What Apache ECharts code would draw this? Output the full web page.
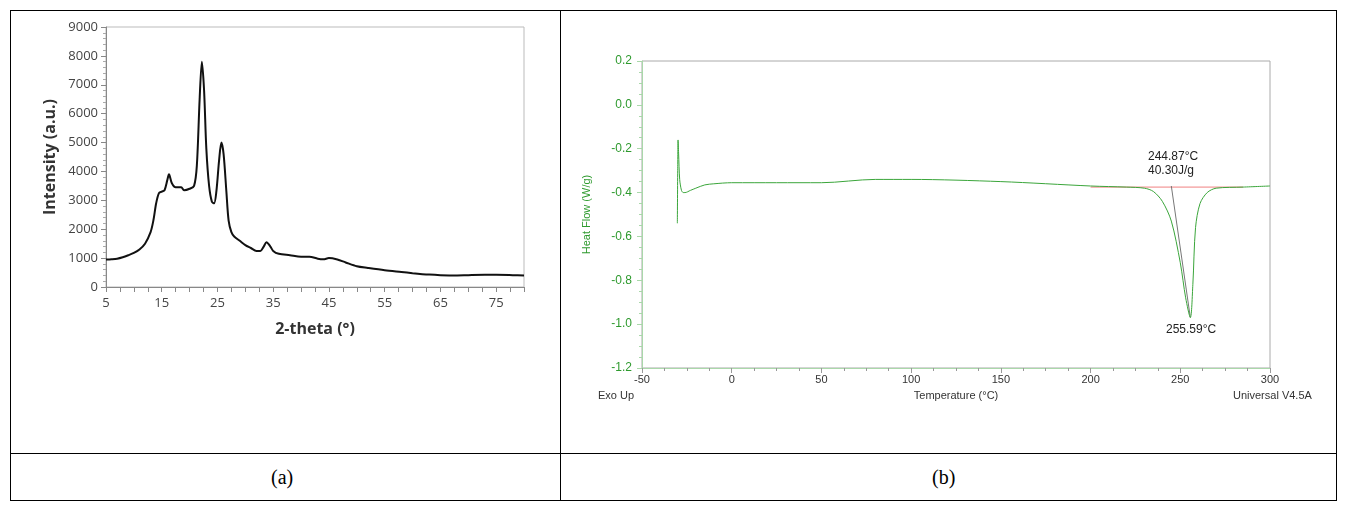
<!DOCTYPE html>
<html>
<head>
<meta charset="utf-8">
<script src="https://cdn.jsdelivr.net/npm/echarts@6/dist/echarts.min.js"></script>
<style>
  body { margin: 0; background: #fff; font-family: "Liberation Serif", serif; }
  #box { position: absolute; left: 10px; top: 10px; width: 1325px; height: 489px; border: 1px solid #000; }
  .vl { position: absolute; left: 560px; top: 10px; width: 0; height: 490px; border-left: 1px solid #000; }
  .hl { position: absolute; left: 10px; top: 453px; width: 1326px; height: 0; border-top: 1px solid #000; }
  .cap { position: absolute; top: 466px; font-size: 20px; }
  #chart { position: absolute; left: 0; top: 0; width: 1345px; height: 512px; }
</style>
</head>
<body>
<div id="box"></div><div class="vl"></div><div class="hl"></div>
<div class="cap" style="left:271px">(a)</div>
<div class="cap" style="left:932px">(b)</div>
<div id="chart"></div>
<script>
// XRD pattern (a)
var xrdX = [5, 6, 7, 8, 9, 10, 11, 12, 13, 13.5, 14, 14.5, 15, 15.5, 16, 16.3, 16.8, 17.5, 18.5, 19, 20, 20.8, 21.3, 21.8, 22.2, 22.6, 23, 23.5, 24, 24.4, 24.8, 25.3, 25.7, 26.1, 26.6, 27, 27.5, 28, 29, 30, 31, 32, 32.7, 33.3, 33.8, 34.5, 35, 36, 38, 40, 41.5, 43, 44, 45, 46.5, 48, 50, 52, 55, 58, 60, 63, 65, 68, 70, 73, 75, 78, 80];
var xrdY = [950, 960, 980, 1030, 1100, 1180, 1300, 1500, 1900, 2300, 2900, 3250, 3300, 3350, 3700, 3900, 3600, 3450, 3450, 3350, 3400, 3500, 4200, 6500, 7800, 6800, 4800, 3500, 2950, 2900, 3300, 4400, 5000, 4600, 3300, 2300, 1900, 1750, 1600, 1450, 1350, 1250, 1250, 1400, 1550, 1400, 1250, 1150, 1100, 1050, 1050, 980, 960, 1000, 950, 850, 720, 660, 580, 520, 480, 430, 410, 400, 410, 420, 420, 410, 400];
var xrdLabels = [5, 15, 25, 35, 45, 55, 65, 75];
var xrdTicks = [5, 7.5, 10, 12.5, 15, 17.5, 20, 22.5, 25, 27.5, 30, 32.5, 35, 37.5, 40, 42.5, 45, 47.5, 50, 52.5, 55, 57.5, 60, 62.5, 65, 67.5, 70, 72.5, 75, 77.5, 80];

// DSC curve (b)
var dscT = [-30.3, -30.1, -29.9, -29.6, -29.0, -28.0, -27.0, -26.0, -23, -20, -15, -10, 0, 25, 50, 80, 100, 150, 200, 220, 230, 235, 240, 245, 250, 253, 255.6, 257, 258.5, 261, 265, 270, 285, 300];
var dscH = [-0.54, -0.30, -0.16, -0.22, -0.34, -0.39, -0.40, -0.40, -0.39, -0.38, -0.365, -0.36, -0.355, -0.355, -0.355, -0.34, -0.34, -0.35, -0.37, -0.375, -0.38, -0.395, -0.44, -0.53, -0.72, -0.88, -0.97, -0.82, -0.56, -0.45, -0.40, -0.38, -0.375, -0.37];
var baseT = [200, 285];
var baseH = [-0.375, -0.375];
var tanT = [245, 255.6];
var tanH = [-0.37, -0.97];

function pairs(xs, ys) { return xs.map(function (x, i) { return [x, ys[i]]; }); }

var chart = echarts.init(document.getElementById('chart'));
var green = '#2e9a2e';
var option = {
  animation: false,
  grid: [
    { left: 106, top: 27, width: 418, height: 260, show: true, borderColor: '#bbb', borderWidth: 1 },
    { left: 642, top: 61, width: 628, height: 307, show: true, borderColor: '#aaa', borderWidth: 1 }
  ],
  xAxis: [{
    gridIndex: 0, type: 'value', min: 5, max: 80,
    name: '2-theta (°)', nameLocation: 'middle', nameGap: 34,
    nameTextStyle: { fontFamily: 'Open Sans', fontWeight: 'bold', fontSize: 16, color: '#333' },
    axisLine: { onZero: false, lineStyle: { color: '#888' } },
    axisTick: { customValues: xrdTicks, lineStyle: { color: '#888' } },
    axisLabel: { customValues: xrdLabels, fontFamily: 'Open Sans', fontSize: 13, color: '#444', margin: 10 },
    splitLine: { show: false }
  }, {
    gridIndex: 1, type: 'value', min: -50, max: 300, interval: 50,
    name: 'Temperature (°C)', nameLocation: 'middle', nameGap: 22,
    nameTextStyle: { fontFamily: 'Liberation Sans', fontSize: 11, color: '#333' },
    axisLine: { onZero: false, lineStyle: { color: '#aad8aa' } },
    axisTick: { lineStyle: { color: '#999' } },
    minorTick: { show: true, splitNumber: 4, lineStyle: { color: '#999' } },
    axisLabel: { fontFamily: 'Liberation Sans', fontSize: 11, color: '#333', margin: 6 },
    splitLine: { show: false }
  }],
  yAxis: [{
    gridIndex: 0, type: 'value', min: 0, max: 9000, interval: 1000,
    name: 'Intensity (a.u.)', nameLocation: 'middle', nameGap: 48,
    nameTextStyle: { fontFamily: 'Open Sans', fontWeight: 'bold', fontSize: 16, color: '#333' },
    axisLine: { show: true, onZero: false, lineStyle: { color: '#888' } },
    axisTick: { show: true, lineStyle: { color: '#888' } },
    minorTick: { show: true, splitNumber: 5, lineStyle: { color: '#aaa' } },
    axisLabel: { fontFamily: 'Open Sans', fontSize: 13, color: '#444', formatter: function (v) { return String(v); } },
    splitLine: { show: false }
  }, {
    gridIndex: 1, type: 'value', min: -1.2, max: 0.2, interval: 0.2,
    name: 'Heat Flow (W/g)', nameLocation: 'middle', nameGap: 50,
    nameTextStyle: { fontFamily: 'Liberation Sans', fontSize: 11, color: green },
    axisLine: { show: true, onZero: false, lineStyle: { color: '#aad8aa' } },
    axisTick: { show: true, lineStyle: { color: '#aad8aa' } },
    minorTick: { show: true, splitNumber: 4, lineStyle: { color: '#aad8aa' } },
    axisLabel: { fontFamily: 'Liberation Sans', fontSize: 12, color: green, margin: 10,
      formatter: function (v) { return v.toFixed(1); } },
    splitLine: { show: false }
  }],
  series: [{
    type: 'line', xAxisIndex: 0, yAxisIndex: 0, data: pairs(xrdX, xrdY),
    showSymbol: false, smooth: 0.3, lineStyle: { color: '#111', width: 2 }
  }, {
    type: 'line', xAxisIndex: 1, yAxisIndex: 1, data: pairs(baseT, baseH),
    showSymbol: false, lineStyle: { color: '#f08080', width: 1 }
  }, {
    type: 'line', xAxisIndex: 1, yAxisIndex: 1, data: pairs(tanT, tanH),
    showSymbol: false, lineStyle: { color: '#777', width: 1 }
  }, {
    type: 'line', xAxisIndex: 1, yAxisIndex: 1, data: pairs(dscT, dscH),
    showSymbol: false, smooth: 0.3, lineStyle: { color: '#3aa53a', width: 1 }
  }],
  graphic: [
    { type: 'text', left: 1148, top: 150, style: { text: '244.87°C\n40.30J/g', font: '12px "Liberation Sans"', fill: '#222', lineHeight: 14 } },
    { type: 'text', left: 1166, top: 324, style: { text: '255.59°C', font: '12px "Liberation Sans"', fill: '#222' } },
    { type: 'text', left: 598, top: 390, style: { text: 'Exo Up', font: '11px "Liberation Sans"', fill: '#333' } },
    { type: 'text', left: 1233, top: 390, style: { text: 'Universal V4.5A', font: '11px "Liberation Sans"', fill: '#333' } }
  ]
};
chart.setOption(option);
</script>
</body>
</html>
